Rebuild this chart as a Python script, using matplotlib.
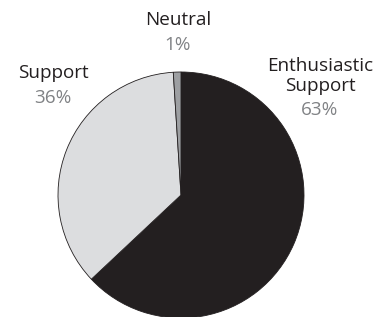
import matplotlib.pyplot as plt

labels = ["Enthusiastic\nSupport", "Support", "Neutral"]
values = [63, 36, 1]
colors = ["#231f20", "#dcdddf", "#9d9fa2"]

# label anchor positions in pixel coords (x, y from top)
label_pos = [(320, 76), (53, 73), (178, 20)]
pct_pos = [(320, 110), (53, 98), (178, 45)]

W, H = 375, 317
fig = plt.figure(figsize=(W / 100, H / 100), dpi=100)
ax = fig.add_axes([0, 0, 1, 1])

ax.pie(values, colors=colors, startangle=90, counterclock=False,
       center=(181, H - 195), radius=123,
       wedgeprops=dict(edgecolor="#231f20", linewidth=0.6))
ax.set_xlim(0, W)
ax.set_ylim(0, H)
ax.set_aspect("equal")
ax.axis("off")

font = "Open Sans"
for lab, v, (lx, ly), (px, py) in zip(labels, values, label_pos, pct_pos):
    ax.text(lx, H - ly, lab, ha="center", va="center", fontsize=13.6,
            family=font, color="#231f20", linespacing=1.15)
    ax.text(px, H - py, f"{v}%", ha="center", va="center", fontsize=13.6,
            family=font, color="#808285")

fig.savefig("out.png", dpi=100)
